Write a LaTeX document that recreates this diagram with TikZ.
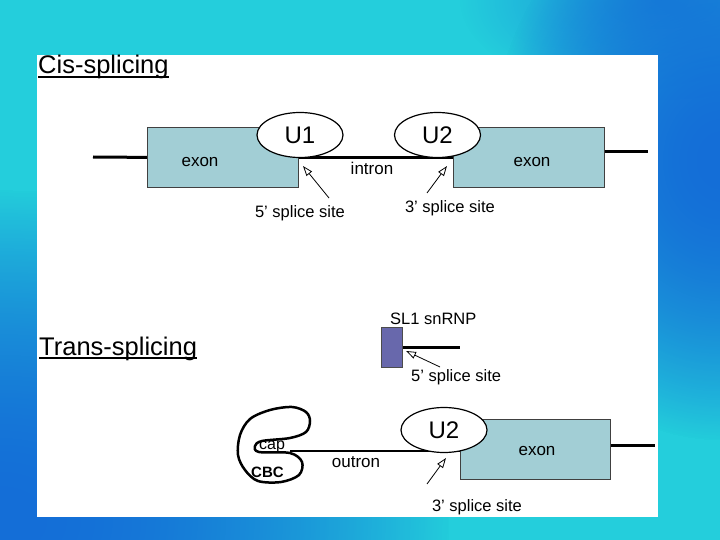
\documentclass[tikz,border=0pt]{standalone}
\usepackage{fontspec}
\setmainfont{Liberation Sans}
\usetikzlibrary{shapes.geometric,arrows.meta,fadings}
\tikzfading[name=softblob, inner color=transparent!0, outer color=transparent!100]
\pgfdeclarelayer{bg}
\pgfsetlayers{bg,main}
\definecolor{bgblue}{RGB}{20,110,215}
\definecolor{bgcyan}{RGB}{36,206,220}
\definecolor{exonfill}{RGB}{162,206,213}
\definecolor{slfill}{RGB}{104,104,172}
\begin{document}
\begin{tikzpicture}[x=1pt,y=-1pt,
  lbl/.style={font=\fontsize{17}{17}\selectfont, inner sep=0},
  sitelbl/.style={font=\fontsize{16.5}{16.5}\selectfont, inner sep=0},
  ttl/.style={font=\fontsize{25.5}{25.5}\selectfont, inner sep=0},
  dnaline/.style={line width=3pt},
  exonbox/.style={draw=black!75, line width=0.8pt, fill=exonfill, inner sep=0, anchor=north west},
  snp/.style={ellipse, draw, fill=white, line width=1.2pt, minimum width=86pt, minimum height=45pt, inner sep=0, font=\fontsize{24}{24}\selectfont},
  sitearrow/.style={line width=0.8pt, -{Triangle[open, length=10pt, width=7pt]}},
  blueblob/.style={bgblue, path fading=softblob}]
\useasboundingbox (0,0) rectangle (720,540);
\begin{pgfonlayer}{bg}
  \fill[bgcyan] (0,0) rectangle (720,540);
  \fill[blueblob] (0,520) ellipse (450 and 330);
  \fill[blueblob] (0,520) ellipse (450 and 330);
  \fill[blueblob] (720,160) ellipse (230 and 280);
  \fill[blueblob] (720,160) ellipse (230 and 280);
  \fill[blueblob, opacity=0.7] (660,0) ellipse (200 and 100);
  \fill[white] (37,55) rectangle (658,517);
\end{pgfonlayer}

% ---------- Cis-splicing ----------
\node[ttl, anchor=base west] (cis) at (38,74) {Cis-splicing};
\draw[line width=1.3pt] ([yshift=-3pt]cis.base west) -- ([yshift=-3pt]cis.base east);

\node[exonbox, minimum width=151pt, minimum height=60pt] (ex1) at (147,127) {};
\node[exonbox, minimum width=151pt, minimum height=60pt] (ex2) at (453,127) {};
\node[snp] (u1) at (300,135) {U1};
\node[snp] (u2c) at (437.5,135) {U2};

\coordinate (l0) at (93,157);
\coordinate (r0) at (648,152);
\begin{pgfonlayer}{bg}
  \draw[dnaline] (l0) -- (ex1.west);
  \draw[dnaline] (ex1.east) -- (ex2.west);
  \draw[dnaline] (ex2.east |- r0) -- (r0);
\end{pgfonlayer}

\node[lbl, anchor=base] (exl) at (200,167) {exon};
\node[lbl, anchor=base] (exr) at (532,167) {exon};
\node[lbl, anchor=base] (intr) at (372,175) {intron};

\coordinate (t5) at (329,198);
\coordinate (h5) at (303,166);
\draw[sitearrow] (t5) -- (h5);
\node[sitelbl, anchor=base] (s5) at (300,218) {5' splice site};

\coordinate (t3) at (427,193);
\coordinate (h3) at (447,166);
\draw[sitearrow] (t3) -- (h3);
\node[sitelbl, anchor=base] (s3) at (450,212) {3' splice site};

% ---------- Trans-splicing ----------
\node[ttl, anchor=base west] (trans) at (39,355) {Trans-splicing};
\draw[line width=1.3pt] ([yshift=-3pt]trans.base west) -- ([yshift=-3pt]trans.base east);

\node[draw=black!70, line width=0.8pt, fill=slfill, minimum width=21pt, minimum height=40pt, inner sep=0, anchor=north west] (sl) at (381,327) {};
\coordinate (sle) at (460,347);
\draw[dnaline] (sl.east |- sle) -- (sle);
\node[sitelbl, anchor=base west] (sllbl) at (390,324) {SL1 snRNP};
\coordinate (ts) at (440,367);
\coordinate (hs) at (406,351);
\draw[sitearrow] (ts) -- (hs);
\node[sitelbl, anchor=base west] (ss5) at (411,381) {5' splice site};

% CBC loop
\draw[line width=2.5pt] plot[smooth cycle, tension=0.55] coordinates {
  (270,410) (292,407) (306,412) (310,421) (306,432) (290,438) (262,441)
  (255,446) (259,452) (290,453) (302,462) (299,475) (281,482) (258,481)
  (245,470) (238,455) (240,435) (250,419)};
\node[font=\fontsize{16}{16}\selectfont, inner sep=0, anchor=base west] (cap) at (259,449.5) {cap};
\node[font=\fontsize{15}{15}\selectfont\bfseries, inner sep=0, anchor=base west] (cbc) at (251,477) {CBC};

\node[exonbox, minimum width=150pt, minimum height=60pt] (tex) at (460,419) {};
\node[snp] (u2t) at (444,430) {U2};
\coordinate (cape) at (290,451);
\coordinate (r1) at (655,445);
\begin{pgfonlayer}{bg}
  \draw[line width=2pt] (cape) -- (cape -| tex.west);
  \draw[dnaline] (tex.east |- r1) -- (r1);
\end{pgfonlayer}
\node[lbl, anchor=base] (outr) at (356,467) {outron};
\node[lbl, anchor=base] (ext) at (537,455) {exon};

\coordinate (tt3) at (427,484);
\coordinate (ht3) at (446,458);
\draw[sitearrow] (tt3) -- (ht3);
\node[sitelbl, anchor=base] (st3) at (477,511) {3' splice site};
\end{tikzpicture}
\end{document}
